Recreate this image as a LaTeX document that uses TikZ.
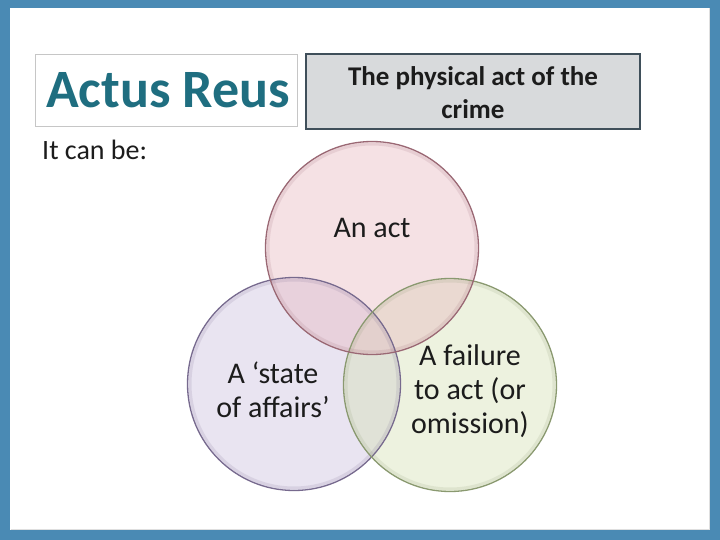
\documentclass[tikz,border=0pt]{standalone}
\usepackage{fontspec}
\setmainfont{Carlito}
\definecolor{frameblue}{HTML}{4A8AB4}
\definecolor{titleteal}{HTML}{1F6E80}
\definecolor{boxgray}{HTML}{D8DADC}
\definecolor{boxedge}{HTML}{3F4F5A}
\definecolor{txt}{HTML}{1C1C1C}
\definecolor{pinkfill}{HTML}{E8B8C0}
\definecolor{pinkedge}{HTML}{9A6874}
\definecolor{purpfill}{HTML}{CBC0DF}
\definecolor{purpedge}{HTML}{776A8E}
\definecolor{greenfill}{HTML}{D5E1B4}
\definecolor{greenedge}{HTML}{8A9970}
\tikzset{
  venn/.style={circle, minimum size=213pt, inner sep=0pt, draw=none, fill opacity=0.42},
  vennrim/.style={line width=1.3pt},
  venntext/.style={text=txt, font=\fontsize{30}{34}\selectfont, align=center, inner sep=0pt},
}
\begin{document}
\begin{tikzpicture}[x=1pt,y=-1pt]
\useasboundingbox (0,0) rectangle (720,540);
% frame
\fill[frameblue] (0,0) rectangle (720,540);
\fill[white] (10,8) rectangle (710,530);
\draw[gray!25, line width=1pt] (10.5,529.5) -- (709.5,529.5) -- (709.5,8.5);
% title box
\node[draw=gray!45, line width=1pt, fill=white, minimum width=262pt, minimum height=72pt, inner sep=0pt] (titlebox) at (166,91) {};
\node[anchor=base west, text=titleteal, font=\fontsize{54}{60}\selectfont\bfseries, inner sep=0pt] (title) at (46,108) {Actus Reus};
% definition box
\node[draw=boxedge, line width=1.6pt, fill=boxgray, minimum width=334pt, minimum height=75pt, inner sep=0pt] (defbox) at (473,91.5) {};
\node[text=txt, font=\fontsize{27}{33}\selectfont\bfseries, align=center, inner sep=0pt] (deftext) at (473,93) {The physical act of the\\crime};
% intro
\node[anchor=base west, text=txt, font=\fontsize{28}{32}\selectfont, inner sep=0pt] (intro) at (42,160) {It can be:};
% venn circles
\node[venn, fill=purpfill] (cstate) at (294,384) {};
\node[venn, fill=greenfill] (comit) at (450,385) {};
\node[venn, fill=pinkfill] (cact) at (372,248) {};
\foreach \c/\col in {cstate/purpedge, comit/greenedge, cact/pinkedge}{
  \draw[\col, vennrim] (\c) circle[radius=106.5pt];
  \draw[\col, line width=3pt, draw opacity=0.15] (\c) circle[radius=104pt];
}
% venn labels
\node[venntext] (tact) at (372,228) {An act};
\node[venntext] (tstate) at (273,390) {A ‘state\\of affairs’};
\node[venntext] (tomit) at (470,391) {A failure\\to act (or\\omission)};
\end{tikzpicture}
\end{document}
